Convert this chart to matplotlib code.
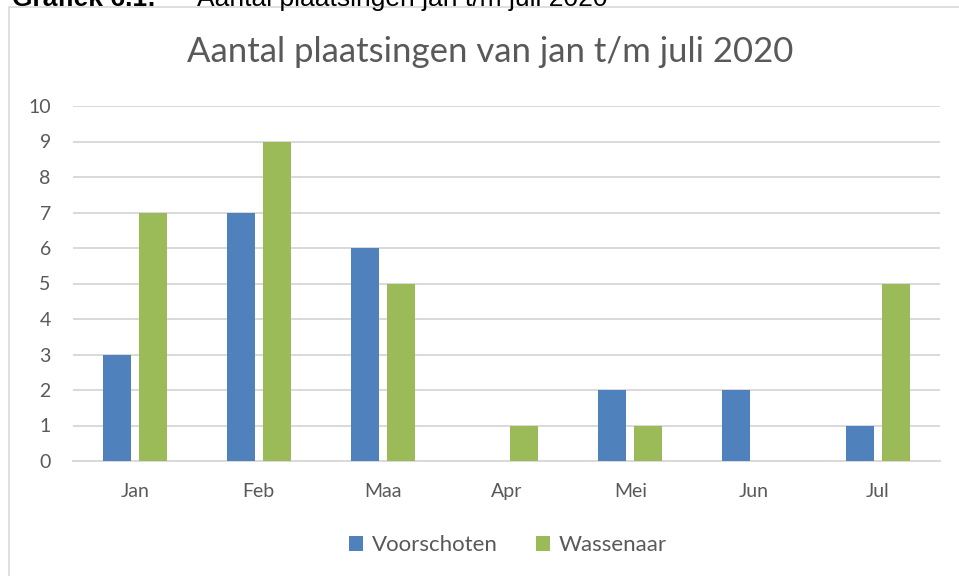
import matplotlib
matplotlib.use("Agg")
import matplotlib.pyplot as plt
from matplotlib.patches import Rectangle
import numpy as np

months = ["Jan", "Feb", "Maa", "Apr", "Mei", "Jun", "Jul"]
voorschoten = [3, 7, 6, 0, 2, 2, 1]
wassenaar = [7, 9, 5, 1, 1, 0, 5]
yticks = list(range(0, 11))

W, H = 959, 576
fig = plt.figure(figsize=(W / 100, H / 100), dpi=100)
fig.patch.set_facecolor("white")

FONT = ["Lato", "DejaVu Sans"]
TXT = "#595959"

# outer chart border (partially off-canvas)
fig.add_artist(Rectangle((9 / W, -0.1), 1.2, 1 - 7 / H + 0.1, transform=fig.transFigure,
                         fill=False, edgecolor="#d9d9d9", linewidth=1.2))

# caption cut off at the top (as in the reference)
fig.text(12 / W, 1 - 6 / H, "Grafiek 6.1:", fontsize=19, fontweight="bold",
         family=["Liberation Sans", "DejaVu Sans"], va="baseline", ha="left", color="black")
fig.text(197 / W, 1 - 6 / H, "Aantal plaatsingen jan t/m juli 2020", fontsize=19,
         family=["Liberation Sans", "DejaVu Sans"], va="baseline", ha="left", color="black")

left, right = 73, 940
top, bottom = 106, 461
ax = fig.add_axes([left / W, 1 - bottom / H, (right - left) / W, (bottom - top) / H])

x = np.arange(len(months))
bw = 0.226
off = 0.145
ax.bar(x - off, voorschoten, bw, color="#4f81bd", label="Voorschoten", zorder=3)
ax.bar(x + off, wassenaar, bw, color="#9bbb59", label="Wassenaar", zorder=3)

ax.set_xlim(-0.5, len(months) - 0.5)
ax.set_ylim(0, 10)
ax.set_yticks(yticks)
ax.set_yticklabels([str(t) for t in yticks], family=FONT, fontsize=14, color=TXT)
ax.set_xticks(x)
ax.set_xticklabels(months, family=FONT, fontsize=14, color=TXT)
ax.tick_params(length=0)
ax.tick_params(axis="y", pad=16)
ax.tick_params(axis="x", pad=16)
ax.grid(axis="y", color="#d9d9d9", linewidth=1.4, zorder=0)
for s in ["top", "right", "left"]:
    ax.spines[s].set_visible(False)
ax.spines["bottom"].set_color("#d9d9d9")
ax.spines["bottom"].set_linewidth(1.4)
ax.set_facecolor("none")

fig.text(490 / W, 1 - 52 / H, "Aantal plaatsingen van jan t/m juli 2020", family=FONT,
         fontsize=25, color=TXT, ha="center", va="center")

leg = fig.legend(loc="center", bbox_to_anchor=(508 / W, 1 - 545 / H), ncol=2, frameon=False,
                 prop={"family": FONT, "size": 16}, handlelength=0.65, handleheight=0.65,
                 handletextpad=0.4, columnspacing=1.7)
for t in leg.get_texts():
    t.set_color(TXT)

fig.savefig("out.png", dpi=100, facecolor="white")
